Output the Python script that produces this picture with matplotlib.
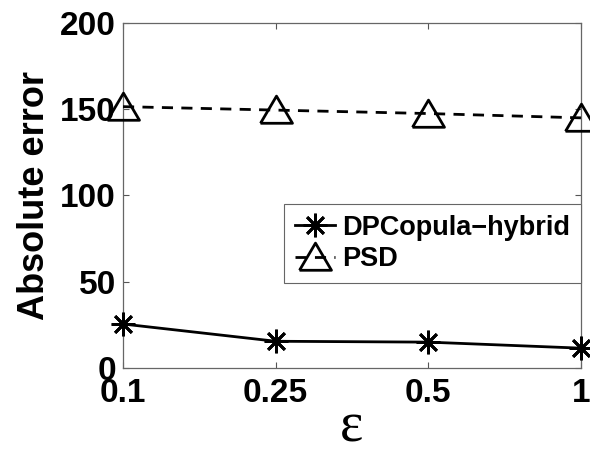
import numpy as np
import matplotlib
matplotlib.use("Agg")
import matplotlib.pyplot as plt

# data
eps_labels = ["0.1", "0.25", "0.5", "1"]
dpcopula = [25.5, 15.5, 15.0, 11.5]
psd = [151.5, 149.5, 147.5, 145.0]
y_ticks = [0, 50, 100, 150, 200]

plt.rcParams["font.family"] = ["Liberation Sans", "DejaVu Sans"]
plt.rcParams["font.weight"] = "bold"

fig = plt.figure(figsize=(5.9, 4.55), dpi=100)
ax = fig.add_axes([0.2085, 0.1912, 0.7762, 0.7583])

x = np.arange(len(eps_labels))
tri = [(-1.0, -0.8), (1.0, -0.8), (0.0, 0.9), (-1.0, -0.8)]

ax.plot(x, dpcopula, color="black", lw=2, marker=(8, 2, 0), ms=17, mew=2,
        label="DPCopula\u2212hybrid", clip_on=False, zorder=3)
ax.plot(x, psd, color="black", lw=2, ls=(0, (4, 3)), marker=tri, ms=23, mew=2,
        mfc="none", label="PSD", clip_on=False, zorder=3)

ax.set_xlim(0, 3)
ax.set_ylim(0, 200)
ax.set_xticks(x)
ax.set_xticklabels(eps_labels)
ax.set_yticks(y_ticks)
ax.tick_params(direction="in", length=4, width=0.8, color="#555555",
               labelsize=24, top=True, right=True, pad=5)
ax.tick_params(axis="x", pad=7)
for sp in ax.spines.values():
    sp.set_color("#666666")
    sp.set_linewidth(0.9)

ax.set_ylabel("Absolute error", fontsize=26, fontweight="bold", labelpad=6)
ax.set_xlabel("\u03b5", fontsize=40, family=["Liberation Serif", "DejaVu Serif"],
              fontweight="normal", labelpad=-5)

leg = ax.legend(loc="upper right", bbox_to_anchor=(1.0, 0.475), borderaxespad=0,
                fancybox=False, framealpha=1, edgecolor="#666666", fontsize=19.5,
                handlelength=1.5, handletextpad=0.25, borderpad=0.4, labelspacing=0.2)
leg.get_frame().set_linewidth(0.8)

fig.savefig("out.png", dpi=100)
